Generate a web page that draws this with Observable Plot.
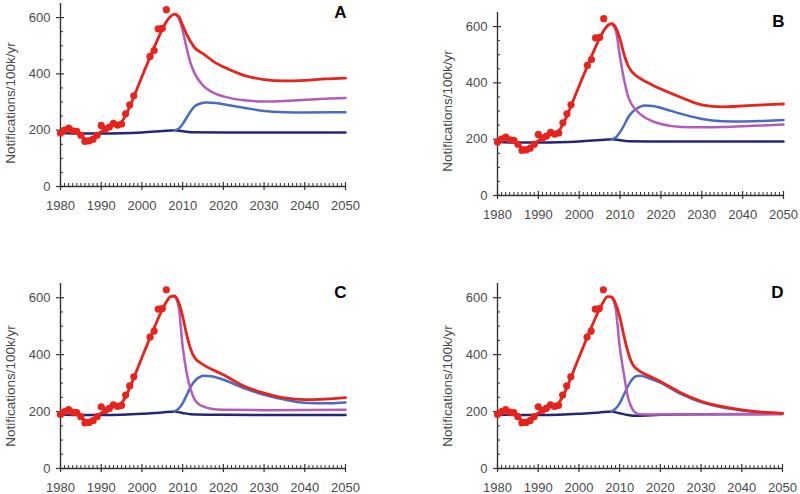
<!DOCTYPE html>
<html><head><meta charset="utf-8">
<script src="https://cdn.jsdelivr.net/npm/d3@7"></script>
<script src="https://cdn.jsdelivr.net/npm/@observablehq/plot@0.6"></script>
<style>
body{margin:0;background:#fff;}
#wrap{position:relative;width:800px;height:494px;overflow:hidden;background:#fff;}
#wrap > svg{position:absolute;}
</style></head><body><div id="wrap"></div>
<script>
// ---- Data ----
const yLabel = "Notifications/100k/yr";
const panelLetters = ["A", "B", "C", "D"];
const xTickLabels = [1980, 1990, 2000, 2010, 2020, 2030, 2040, 2050];
const yTickLabels = [0, 200, 400, 600];

// observed notifications (dots)
const obsYears  = [1980,1981,1982,1983,1984,1985,1986,1987,1988,1989,1990,1991,1992,1993,1994,1995,1996,1997,1998,2002,2003,2004,2005,2006];
const obsValues = [190, 200, 207, 198, 196, 182, 160, 162, 168, 182, 217, 204, 211, 224, 218, 222, 258, 290, 322, 462, 483, 560, 562, 628];

// fitted total (common to all panels, up to the peak)
const fitYears  = [1980,1981,1982,1983,1984,1985,1986,1987,1988,1989,1990,1991,1992,1993,1994,1995,1996,1997,1998,1999,2000,2001,2002,2003,2004,2005,2006,2007];
const fitValues = [190, 198, 205, 202, 195, 182, 170, 168, 173, 183, 195, 203, 210, 216, 221, 230, 252, 283, 318, 354, 390, 425, 460, 494, 527, 558, 585, 604];

// baseline (navy), panels A-C
const baseYears  = [1980,1985,1990,1995,2000,2005,2008,2010,2012,2020,2030,2050];
const baseValues = [190, 188, 188, 189, 192, 197, 200, 196, 193, 192, 192, 192];
const baseValuesC = [190, 188, 188, 189, 192, 197, 200, 195, 191, 189, 188, 188];
// baseline panel D
const baseYearsD  = [1980,1985,1990,1995,2000,2005,2008,2010,2012,2014,2016,2020,2030,2050];
const baseValuesD = [190, 188, 188, 189, 192, 197, 200, 194, 188, 185, 186, 189, 191, 192];

// Panel A projections
const redYearsA = [2008,2009,2010,2011,2012,2013,2015,2018,2020,2025,2030,2035,2040,2045,2050];
const redA      = [612, 605, 573, 540, 513, 492, 472, 440, 425, 395, 380, 375, 377, 382, 385];
const magYearsA = [2008,2009,2010,2011,2012,2013,2015,2018,2020,2025,2030,2035,2040,2045,2050];
const magA      = [612, 600, 555, 490, 436, 400, 359, 330, 320, 306, 302, 304, 308, 312, 314];
const bluYearsA = [2008,2009,2010,2011,2012,2013,2014,2016,2018,2020,2025,2030,2035,2040,2050];
const bluA      = [200, 205, 222, 245, 268, 285, 293, 298, 297, 292, 280, 268, 264, 263, 264];

// Panel B projections
const redYearsB = [2008,2009,2010,2011,2012,2013,2015,2018,2020,2025,2030,2035,2040,2045,2050];
const redB      = [610, 595, 555, 500, 460, 438, 415, 392, 378, 348, 322, 315, 318, 322, 325];
const magYearsB = [2008,2009,2010,2011,2012,2013,2014,2016,2018,2020,2025,2030,2035,2040,2045,2050];
const magB      = [610, 585, 490, 410, 350, 320, 302, 278, 263, 254, 243, 242, 243, 246, 249, 252];
const bluYearsB = [2008,2009,2010,2011,2012,2013,2014,2016,2018,2020,2025,2030,2035,2040,2045,2050];
const bluB      = [200, 207, 225, 250, 278, 296, 308, 320, 318, 311, 290, 272, 264, 263, 265, 268];

// Panel C projections
const redYearsC = [2008,2009,2010,2011,2012,2013,2014,2015,2018,2020,2025,2030,2035,2040,2045,2050];
const redC      = [606, 585, 535, 470, 418, 388, 375, 365, 343, 329, 290, 265, 248, 242, 244, 249];
const magYearsC = [2008,2009,2010,2011,2012,2013,2014,2015,2017,2020,2030,2050];
const magC      = [606, 570, 430, 335, 276, 241, 226, 218, 210, 206, 205, 206];
const bluYearsC = [2008,2009,2010,2011,2012,2013,2014,2015,2017,2020,2025,2030,2035,2040,2045,2050];
const bluC      = [200, 210, 229, 258, 288, 308, 320, 326, 324, 312, 283, 259, 242, 231, 229, 232];

// Panel D projections
const redYearsD = [2008,2009,2010,2011,2012,2013,2014,2015,2018,2020,2025,2030,2035,2040,2045,2050];
const redD      = [603, 580, 535, 470, 412, 371, 352, 341, 320, 306, 266, 236, 218, 206, 198, 194];
const magYearsD = [2008,2009,2010,2011,2012,2013,2014,2015,2020,2050];
const magD      = [603, 565, 430, 335, 253, 212, 195, 191, 190, 191];
const bluYearsD = [2008,2009,2010,2011,2012,2013,2014,2015,2017,2020,2025,2030,2035,2040,2045,2050];
const bluD      = [200, 210, 229, 258, 288, 312, 324, 326, 318, 302, 262, 233, 215, 204, 197, 193];

// ---- Styles ----
const RED = "#e8231b", MAG = "#b35cbc", BLU = "#4a6cc0", NAV = "#262679", AX = "#333";
const FONT = "'Liberation Sans', Arial, Helvetica, sans-serif";

const pts = (xs, ys) => xs.map((x, i) => ({x, y: ys[i]}));
const obs = pts(obsYears, obsValues);
const fit = pts(fitYears, fitValues);

const panels = [
  {letter: panelLetters[0], left: 0,   top: 0,   height: 250, ml: 60, mr: 55, mt: 3,  mb: 64, ldy: 8,
   red: pts(redYearsA, redA), mag: pts(magYearsA, magA), blu: pts(bluYearsA, bluA), nav: pts(baseYears, baseValues)},
  {letter: panelLetters[1], left: 400, top: 0,   height: 250, ml: 97, mr: 17, mt: 12, mb: 55, ldy: 7,
   red: pts(redYearsB, redB), mag: pts(magYearsB, magB), blu: pts(bluYearsB, bluB), nav: pts(baseYears, baseValues)},
  {letter: panelLetters[2], left: 0,   top: 250, height: 244, ml: 60, mr: 55, mt: 33, mb: 26, ldy: 10,
   red: pts(redYearsC, redC), mag: pts(magYearsC, magC), blu: pts(bluYearsC, bluC), nav: pts(baseYears, baseValuesC)},
  {letter: panelLetters[3], left: 400, top: 250, height: 244, ml: 97, mr: 18, mt: 33, mb: 26, ldy: 10,
   red: pts(redYearsD, redD), mag: pts(magYearsD, magD), blu: pts(bluYearsD, bluD), nav: pts(baseYearsD, baseValuesD)}
];

const minorX = d3.range(1980, 2051).filter(d => d % 10 !== 0);
const minorY = d3.range(50, 650, 50).filter(d => d % 200 !== 0);

const wrap = document.getElementById("wrap");
for (const p of panels) {
  const W = 400, H = p.height;
  const fw = W - p.ml - p.mr, fh = H - p.mt - p.mb;
  const redFull = fit.concat(p.red);
  const curve = "monotone-x";
  const svg = Plot.plot({
    width: W, height: H,
    marginLeft: p.ml, marginRight: p.mr, marginTop: p.mt, marginBottom: p.mb,
    x: {domain: [1980, 2050]},
    y: {domain: [0, 650]},
    style: {fontFamily: FONT, fontSize: "13px", color: "#4a4a4a", background: "transparent", overflow: "visible"},
    marks: [
      Plot.axisX({ticks: xTickLabels, tickSize: 0, tickPadding: 14, tickFormat: d => String(d), label: null}),
      Plot.axisY({ticks: yTickLabels, tickSize: 0, tickPadding: 10, tickFormat: d => String(d), label: null}),
      Plot.ruleX(minorX, {insetTop: fh - 3, stroke: AX}),
      Plot.ruleX(xTickLabels, {insetTop: fh - 4, insetBottom: -4, stroke: AX, strokeWidth: 1.2}),
      Plot.ruleY(minorY, {insetRight: fw - 3, stroke: AX}),
      Plot.ruleY(yTickLabels, {insetLeft: -4, insetRight: fw - 4, stroke: AX, strokeWidth: 1.2}),
      Plot.ruleX([1980], {stroke: AX, strokeWidth: 1.4}),
      Plot.ruleY([0], {stroke: AX, strokeWidth: 1.4}),
      Plot.line(p.nav, {x: "x", y: "y", stroke: NAV, strokeWidth: 2.5, curve}),
      Plot.line(p.blu, {x: "x", y: "y", stroke: BLU, strokeWidth: 2.5, curve}),
      Plot.line(p.mag, {x: "x", y: "y", stroke: MAG, strokeWidth: 2.5, curve}),
      Plot.line(redFull, {x: "x", y: "y", stroke: RED, strokeWidth: 2.8, curve}),
      Plot.dot(obs, {x: "x", y: "y", r: 3.6, fill: RED, stroke: "none"}),
      Plot.text([p.letter], {frameAnchor: "top-right", dx: -5, dy: 9, text: d => d, fontSize: 17, fontWeight: "bold", fill: "#000", textAnchor: "middle", lineAnchor: "middle"}),
      Plot.text([yLabel], {frameAnchor: "left", rotate: -90, dx: -50, dy: p.ldy, text: d => d, fontSize: 13.5, fill: "#4a4a4a", textAnchor: "middle", lineAnchor: "middle"})
    ]
  });
  svg.style.left = p.left + "px";
  svg.style.top = p.top + "px";
  wrap.appendChild(svg);
}
</script>
</body></html>
